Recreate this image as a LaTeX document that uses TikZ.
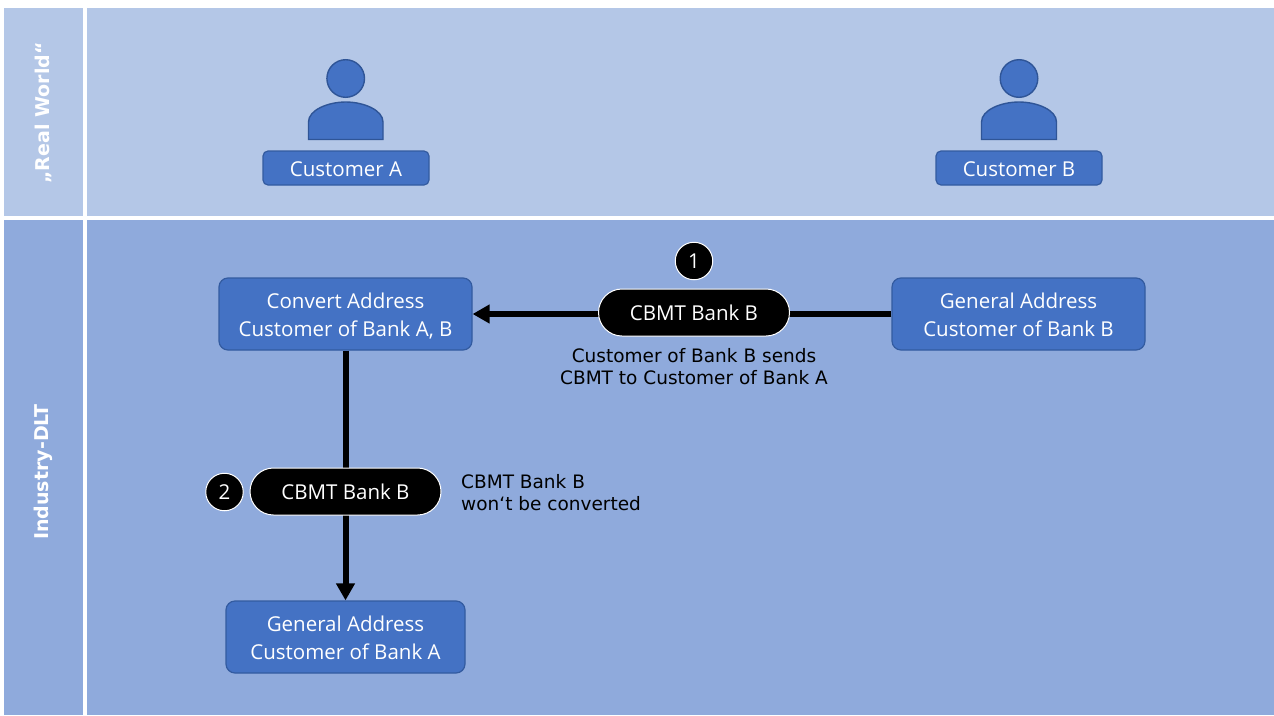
\documentclass[tikz,border=0pt]{standalone}
\usepackage{fontspec}
\setmainfont{Open Sans}
\newfontfamily\verd{DejaVu Sans}
\usetikzlibrary{arrows.meta}
\definecolor{bandA}{HTML}{B4C7E7}
\definecolor{bandB}{HTML}{8FAADC}
\definecolor{boxfill}{HTML}{4472C4}
\definecolor{boxline}{HTML}{2F5597}
\newcommand{\topstrut}{\rule{0pt}{22pt}}
\newcommand{\botstrut}{\rule[-5pt]{0pt}{5pt}}
\tikzset{
  x=1pt,y=-1pt,
  addr/.style={draw=boxline!80!boxfill,line width=1.2pt,fill=boxfill,rounded corners=9pt,text=white,inner sep=0pt,align=center,font=\fontsize{20.5}{28.5}\selectfont},
  custbox/.style={draw=boxline!80!boxfill,line width=1.2pt,fill=boxfill,rounded corners=5pt,text=white,inner sep=0pt,minimum width=166pt,minimum height=34pt,font=\fontsize{20.5}{24}\selectfont},
  pill/.style={draw=white,line width=1pt,fill=black,rounded corners=23.5pt,text=white,inner sep=0pt,minimum width=191pt,minimum height=47pt,font=\fontsize{20.5}{24}\selectfont},
  badge/.style={draw=white,line width=1pt,fill=black,circle,text=white,inner sep=0pt,minimum size=37.5pt,font=\fontsize{20.5}{24}\selectfont},
  note/.style={text=black,inner sep=0pt,align=left,font=\verd\fontsize{18.5}{21.5}\selectfont},
  lane/.style={text=white,rotate=90,inner sep=0pt,font=\verd\bfseries\fontsize{19}{20}\selectfont},
  flow/.style={line width=6pt,draw=black,-{Triangle[length=17pt,width=18pt]}},
  person/.style={draw=boxline,line width=1.4pt,fill=boxfill}
}
\begin{document}
\begin{tikzpicture}
\useasboundingbox (0,0) rectangle (1274,715);
\fill[white] (0,0) rectangle (1274,715);
\fill[bandA] (4,8) rectangle (83,216);
\fill[bandA] (87,8) rectangle (1274,216);
\fill[bandB] (4,220) rectangle (83,715);
\fill[bandB] (87,220) rectangle (1274,715);
\node[lane] (realworld) at (43,113) {„Real World“};
\node[lane] (industry) at (43,472) {Industry-DLT};
% people
\draw[person] (345.7,78.5) circle (18.8);
\draw[person] (308.5,139.5) -- (308.5,122) .. controls (308.5,110) and (328,102) .. (345.7,102) .. controls (363.5,102) and (383,110) .. (383,122) -- (383,139.5) -- cycle;
\draw[person] (1019,78.5) circle (18.8);
\draw[person] (981.5,139.5) -- (981.5,122) .. controls (981.5,110) and (1001,102) .. (1019,102) .. controls (1037,102) and (1056.5,110) .. (1056.5,122) -- (1056.5,139.5) -- cycle;
\node[custbox] (custA) at (346,168) {\rule{0pt}{18pt}Customer A};
\node[custbox] (custB) at (1019,168) {\rule{0pt}{18pt}Customer B};
% address boxes
\node[addr,minimum width=253pt,minimum height=72pt] (conv) at (345.5,314) {\topstrut Convert Address\\Customer of Bank A, B\botstrut};
\node[addr,minimum width=253pt,minimum height=72pt] (genB) at (1018.5,314) {\topstrut General Address\\Customer of Bank B\botstrut};
\node[addr,minimum width=239pt,minimum height=72pt] (genA) at (345.5,637) {\topstrut General Address\\Customer of Bank A\botstrut};
% connectors, under the tokens
\draw[flow] (genB.west) -- (conv.east);
\draw[flow] (conv.south) -- (genA.north);
% tokens
\node[pill] (pillOne) at (694,312.5) {CBMT Bank B};
\node[pill] (pillTwo) at (345.5,491.5) {CBMT Bank B};
\node[badge] (one) at (694,261) {1};
\node[badge] (two) at (224.5,492) {2};
% notes
\node[note,align=center] (noteOne) at (694,366.5) {Customer of Bank B sends\\CBMT to Customer of Bank A};
\node[note,anchor=west] (noteTwo) at (461,492.5) {CBMT Bank B\\won‘t be converted};
\end{tikzpicture}
\end{document}
